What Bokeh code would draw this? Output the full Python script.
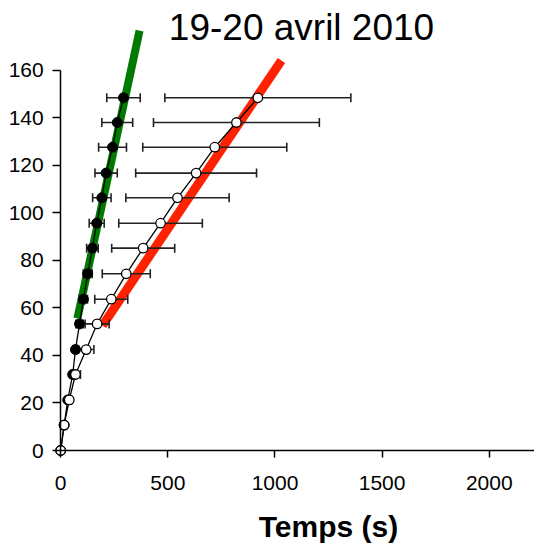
import math
from bokeh.plotting import figure
from bokeh.models import (ColumnDataSource, FixedTicker, LinearAxis, Label, Range1d)
from bokeh.embed import file_html
from bokeh.resources import INLINE

# ---- data ----
niveaux = [0, 10.7, 21.3, 32.0, 42.5, 53.3, 63.7, 74.4, 85.2, 95.7, 106.4, 116.8, 127.7, 138.1, 148.5]
temps_noir = [0, 16, 33, 56, 69, 88, 106, 126, 148, 168, 192, 212, 242, 264, 293]
err_noir = [0, 3, 5, 8, 12, 17, 19, 21, 27, 35, 43, 52, 65, 72, 78]
temps_blanc = [0, 16, 40, 69, 119, 170, 236, 306, 385, 466, 545, 632, 719, 820, 920]
err_blanc = [0, 5, 12, 23, 36, 56, 77, 112, 147, 195, 241, 282, 336, 387, 434]
fit_vert_x = [78, 368]
fit_vert_y = [55.6, 176.8]
fit_rouge_x = [195, 1030]
fit_rouge_y = [52.6, 164.2]
x_ticks = [0, 500, 1000, 1500, 2000]
y_ticks = [0, 20, 40, 60, 80, 100, 120, 140, 160]
titre = "19-20 avril 2010"
x_titre = "Temps (s)"

FONT = "Liberation Sans"
# the frame covers the whole canvas; axes are pinned at the data origin
X0, X1 = -280.9, 2211.0
Y0, Y1 = -40.42, 189.47

p = figure(width=534, height=546, output_backend="svg", toolbar_location=None,
           x_range=Range1d(X0, X1), y_range=Range1d(Y0, Y1),
           x_axis_location=None, y_axis_location=None,
           min_border_left=0, min_border_right=0, min_border_top=0, min_border_bottom=0)
p.outline_line_color = None
for g in p.grid:
    g.visible = False
p.background_fill_color = "white"
p.border_fill_color = "white"

def style_axis(ax, tick_out, standoff):
    ax.axis_line_color = "black"
    ax.axis_line_width = 1.5
    ax.major_tick_line_color = "black"
    ax.major_tick_line_width = 1.5
    ax.major_tick_out = tick_out
    ax.major_tick_in = 0
    ax.minor_tick_out = 0
    ax.minor_tick_in = 0
    ax.major_label_text_font = FONT
    ax.major_label_text_font_size = "21px"
    ax.major_label_text_color = "black"
    ax.major_label_standoff = standoff

yaxis = LinearAxis(fixed_location=0, bounds=(y_ticks[0], y_ticks[-1]), ticker=FixedTicker(ticks=y_ticks))
style_axis(yaxis, 8, 9)
p.add_layout(yaxis, "left")

xaxis = LinearAxis(fixed_location=0, bounds=(x_ticks[0], X1), ticker=FixedTicker(ticks=x_ticks))
style_axis(xaxis, 7, 18)
p.add_layout(xaxis, "below")

# fitted lines
p.line(fit_vert_x, fit_vert_y, line_color="#007a00", line_width=8, line_cap="butt")
p.line(fit_rouge_x, fit_rouge_y, line_color="#ff2200", line_width=9, line_cap="butt")

def series(temps, err):
    src = ColumnDataSource(dict(
        y=niveaux, x=temps,
        lo=[t - e for t, e in zip(temps, err)],
        hi=[t + e for t, e in zip(temps, err)]))
    p.segment(x0="lo", y0="y", x1="hi", y1="y", source=src, line_color="#222222", line_width=1.6)
    for col in ("lo", "hi"):
        p.scatter(x=col, y="y", source=src, marker="dash", angle=math.pi / 2, size=9,
                  line_color="#222222", line_width=1.6)
    return src

s_noir = series(temps_noir, err_noir)
s_blanc = series(temps_blanc, err_blanc)

p.line(x="x", y="y", source=s_noir, line_color="black", line_width=1.3)
p.scatter(x="x", y="y", source=s_noir, marker="circle", size=10,
          fill_color="black", line_color="black", line_width=1)
p.line(x="x", y="y", source=s_blanc, line_color="black", line_width=1.3)
p.scatter(x="x", y="y", source=s_blanc, marker="circle", size=9.5,
          fill_color="white", line_color="black", line_width=1.3)

p.add_layout(Label(x=1123.7, y=178.1, text=titre, text_font=FONT, text_font_size="37px",
                   text_align="center", text_baseline="alphabetic", text_color="black"))
p.add_layout(Label(x=1249.6, y=-32.0, text=x_titre, text_font=FONT, text_font_size="30px",
                   text_font_style="bold", text_align="center", text_baseline="alphabetic",
                   text_color="black"))

open("out.html", "w").write(file_html(p, INLINE))
